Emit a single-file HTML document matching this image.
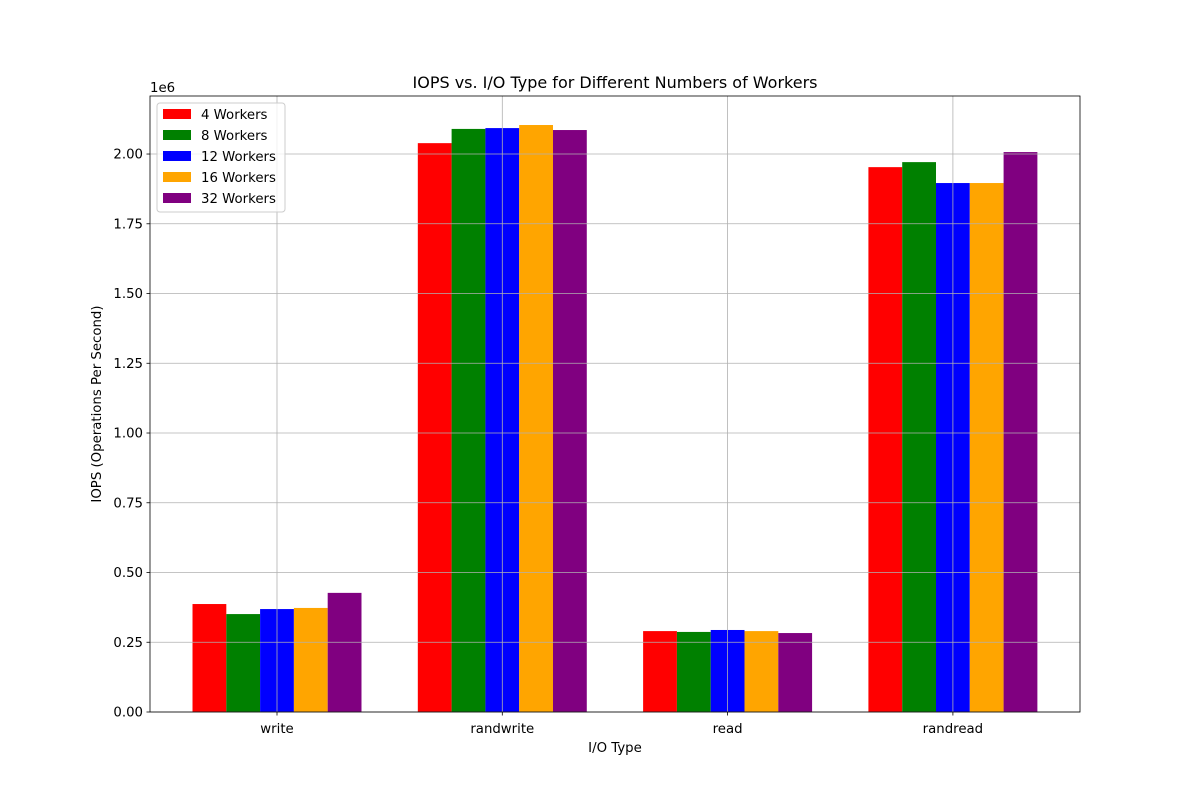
<!DOCTYPE html>
<html><head><meta charset="utf-8"><style>
body{margin:0;background:#fff;}
svg text{font-family:"DejaVu Sans","Liberation Sans",sans-serif;fill:#000;}
</style></head><body>
<svg id="chart" width="1200" height="800" xmlns="http://www.w3.org/2000/svg">
<rect width="1200" height="800" fill="#fff"/>
<g id="bars"></g>
<g id="grid"></g>
<g id="axes"></g>
</svg>
<script>
const categories = ["write","randwrite","read","randread"];
const seriesNames = ["4 Workers","8 Workers","12 Workers","16 Workers","32 Workers"];
const seriesColors = ["red","green","blue","orange","purple"];
const w4 = [0.387, 2.039, 0.290, 1.953];
const w8 = [0.351, 2.090, 0.287, 1.971];
const w12 = [0.369, 2.093, 0.294, 1.896];
const w16 = [0.373, 2.104, 0.290, 1.896];
const w32 = [0.427, 2.086, 0.283, 2.007];
const yTicks = [0,0.25,0.5,0.75,1.0,1.25,1.5,1.75,2.0];
const yTickLabels = ["0.00","0.25","0.50","0.75","1.00","1.25","1.50","1.75","2.00"];
const series = [w4,w8,w12,w16,w32];

const NS="http://www.w3.org/2000/svg";
const L=150,R=1080,T=96,B=712, yMax=2.208;
const y = v => B - v/yMax*(B-T);
const unit = 225.3;
const xc = i => 277 + i*unit;
const bw = 0.15*unit;
function mk(tag, attrs, parent){const e=document.createElementNS(NS,tag);for(const k in attrs)e.setAttribute(k,attrs[k]);parent.appendChild(e);return e;}
const gb=document.getElementById('bars'), gg=document.getElementById('grid'), ga=document.getElementById('axes');

series.forEach((s,si)=>{
  s.forEach((v,ci)=>{
    const xl = xc(ci) + (si-2)*bw - bw/2;
    const r=mk('rect',{x:xl,y:y(v),width:bw,height:B-y(v),fill:seriesColors[si]},gb);
    
    
  });
});
yTicks.forEach((t,i)=>{
  const l=mk('line',{x1:L,x2:R,y1:y(t),y2:y(t),stroke:'#b0b0b0','stroke-width':0.8},gg);
  
  
  mk('line',{x1:L-3.5,x2:L,y1:y(t),y2:y(t),stroke:'#000','stroke-width':0.8},ga);
  const tx=mk('text',{x:L-7,y:y(t)+4.5,'text-anchor':'end','font-size':13.3},ga);
  tx.textContent=yTickLabels[i];
  
  
});
categories.forEach((c,i)=>{
  const l=mk('line',{x1:xc(i),x2:xc(i),y1:T,y2:B,stroke:'#b0b0b0','stroke-width':0.8},gg);
  
  
  mk('line',{x1:xc(i),x2:xc(i),y1:B,y2:B+3.5,stroke:'#000','stroke-width':0.8},ga);
  const tx=mk('text',{x:xc(i),y:B+21,'text-anchor':'middle','font-size':13.3},ga);
  tx.textContent=c;
  
  
});
mk('rect',{x:L,y:T,width:R-L,height:B-T,fill:'none',stroke:'#000','stroke-width':0.8},ga);
let t;
t=mk('text',{x:L,y:T-4,'font-size':13.3},ga);t.textContent='1e6';

t=mk('text',{x:615,y:88,'text-anchor':'middle','font-size':16},ga);t.textContent='IOPS vs. I/O Type for Different Numbers of Workers';

t=mk('text',{x:615,y:752,'text-anchor':'middle','font-size':13.3},ga);t.textContent='I/O Type';

t=mk('text',{x:101,y:404,'text-anchor':'middle','font-size':13.3,transform:'rotate(-90 101 404)'},ga);t.textContent='IOPS (Operations Per Second)';

const lg=mk('g',{},ga);


mk('rect',{x:157,y:103,width:128,height:109,rx:3,fill:'#fff','fill-opacity':0.8,stroke:'#ccc','stroke-width':1},lg);
seriesNames.forEach((n,i)=>{
  const yy=109+i*21;
  mk('rect',{x:163,y:yy,width:28,height:10,fill:seriesColors[i]},lg);
  const tt=mk('text',{x:201,y:yy+10,'font-size':13.3},lg);tt.textContent=n;
  
  
});
</script>
</body></html>
